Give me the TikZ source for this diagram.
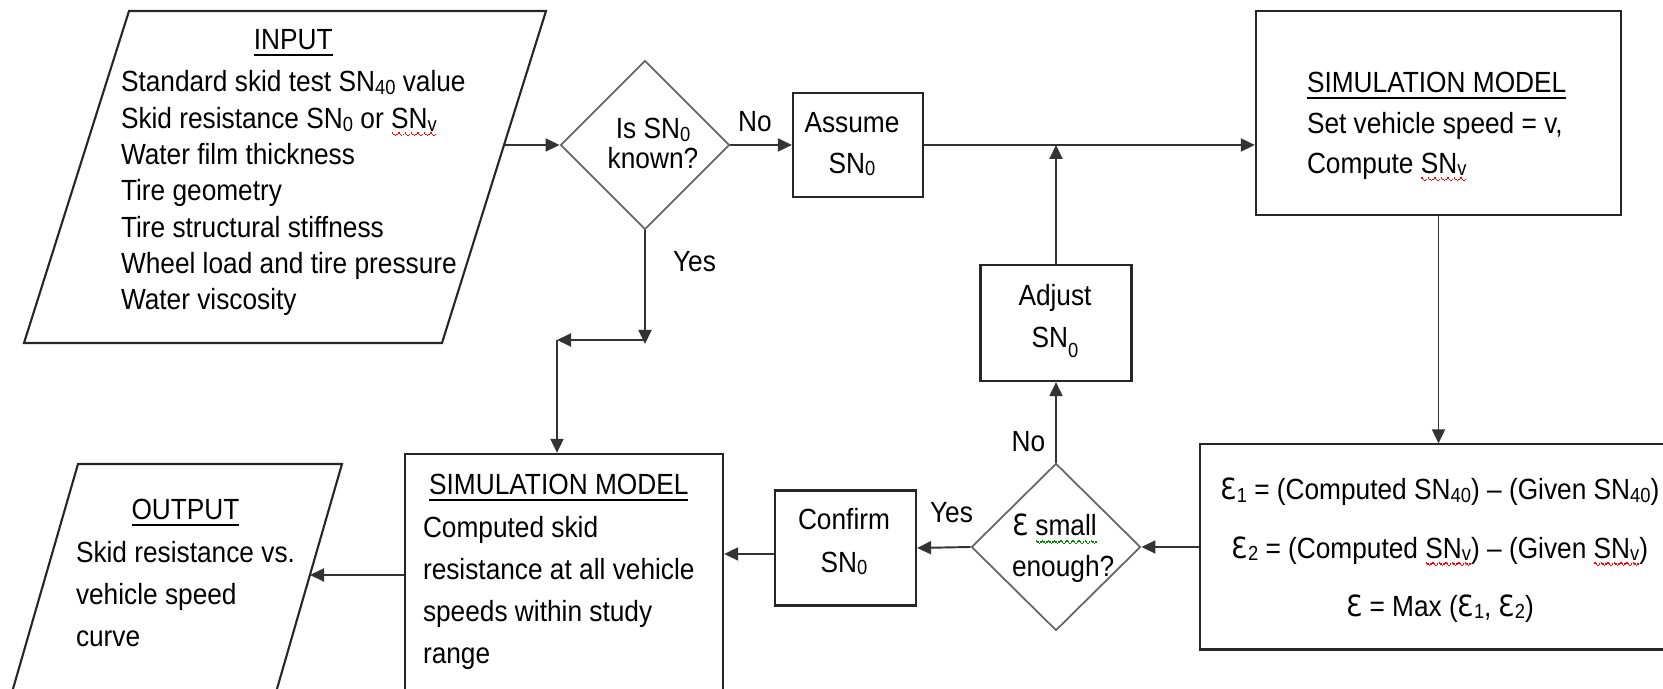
\documentclass[tikz,border=0pt]{standalone}
\usepackage{fontspec}
\setmainfont[FakeStretch=0.9]{Liberation Sans}
\newfontfamily\epsfamily[FakeStretch=0.9]{DejaVu Sans}
\usetikzlibrary{shapes.geometric,arrows.meta,calc}

% subscripts as set in the flow chart
\newcommand\sbs[1]{\raisebox{-0.8pt}{\fontsize{5.8}{5.8}\selectfont #1}}
\newcommand\sbl[1]{\raisebox{-3pt}{\fontsize{5.8}{5.8}\selectfont #1}}
% open epsilon used for the error terms
\newcommand\eps{{\epsfamily Ɛ}}
% wavy spell-check underlines, built from tiny rules
\newsavebox\spbox
\newcommand\wavepiece{\rule[-1.6pt]{0.42pt}{0.42pt}\rule[-1.95pt]{0.42pt}{0.42pt}%
  \rule[-2.3pt]{0.42pt}{0.42pt}\rule[-1.95pt]{0.42pt}{0.42pt}}
\newcommand\spellline[2]{\sbox\spbox{#2}\rlap{\usebox\spbox}%
  \textcolor{#1}{\hbox to \wd\spbox{\xleaders\hbox{\wavepiece}\hfill}}}
\newcommand\spellred[1]{\spellline{red}{#1}}
\newcommand\spellgreen[1]{\spellline{green!55!black}{#1}}

\tikzset{
  frame/.style={draw=black!85, line width=0.6pt, inner sep=0pt},
  decide/.style={diamond, draw=black!60, line width=0.5pt, inner sep=0pt,
    minimum width=1.69cm, minimum height=1.69cm},
  flow/.style={draw=black!80, line width=0.55pt, -{Triangle[length=1.4mm,width=1.3mm]}},
  txt/.style={inner sep=0pt, outer sep=0pt},
  lbl/.style={txt, anchor=base, font=\fontsize{8.3}{9}\selectfont},
}

\begin{document}
\begin{tikzpicture}[x=0.01cm, y=-0.01cm]
\useasboundingbox (0,0) rectangle (1663,689);
\clip (0,0) rectangle (1663,689);

% ---- input / output parallelograms
\draw[frame] (129,11) coordinate (inTL) -- (546,11) coordinate (inTR)
  -- (442,343) coordinate (inBR) -- (24,343) coordinate (inBL) -- cycle;
\draw[frame] (78,464) coordinate (outTL) -- (342,464) coordinate (outTR)
  -- (268,720) coordinate (outBR) -- (4,720) coordinate (outBL) -- cycle;
\coordinate (inR) at (505,145);
\coordinate (outR) at (310,575);

\node[txt, anchor=base west, font=\fontsize{8.3}{10.33}\selectfont] (intext) at (121,50)
 {\begin{tabular}[t]{@{}l@{}}
  \multicolumn{1}{@{}c@{}}{\underline{INPUT}}\\[1.6pt]
  Standard skid test SN\sbs{40} value\\
  Skid resistance SN\sbs{0} or \spellred{SN\sbs{v}}\\
  Water film thickness\\
  Tire geometry\\
  Tire structural stiffness\\
  Wheel load and tire pressure\\
  Water viscosity
 \end{tabular}};

\node[txt, anchor=base west, font=\fontsize{8.3}{11.95}\selectfont] (outtext) at (76,520)
 {\begin{tabular}[t]{@{}l@{}}
  \multicolumn{1}{@{}c@{}}{\underline{OUTPUT}}\\
  Skid resistance vs.\\
  vehicle speed\\
  curve
 \end{tabular}};

% ---- boxes
\node[frame, minimum width=1.30cm, minimum height=1.04cm] (assume) at (858,145) {};
\node[frame, minimum width=3.65cm, minimum height=2.04cm] (sim1) at (1438.5,113) {};
\node[frame, minimum width=4.70cm, minimum height=2.05cm] (err) at (1435,547) {};
\node[frame, minimum width=1.51cm, minimum height=1.16cm] (adj) at (1056,323) {};
\node[frame, minimum width=1.41cm, minimum height=1.15cm] (conf) at (845.5,548) {};
\node[frame, minimum width=3.18cm, minimum height=2.81cm] (sim2) at (564,594.5) {};

% ---- decisions
\node[decide] (d1) at (645,145) {};
\node[decide, minimum height=1.67cm] (d2) at (1056,547) {};

% ---- texts inside boxes and decisions
\node[txt, anchor=base, font=\fontsize{8.3}{11.4}\selectfont] (assumetext) at (852,133)
 {\begin{tabular}[t]{@{}c@{}}Assume\\SN\sbs{0}\end{tabular}};
\node[txt, anchor=base west, font=\fontsize{8.3}{11.4}\selectfont] (sim1text) at (1307,93)
 {\begin{tabular}[t]{@{}l@{}}
  \underline{SIMULATION MODEL}\\
  Set vehicle speed = v,\\
  Compute \spellred{SN\sbs{v}}
 \end{tabular}};
\node[txt, anchor=base, font=\fontsize{8.3}{16.5}\selectfont] (errtext) at (1440,500)
 {\begin{tabular}[t]{@{}c@{}}
  \eps\sbs{1} = (Computed SN\sbs{40}) – (Given SN\sbs{40})\\
  \eps\sbs{2} = (Computed \spellred{SN\sbs{v}}) – (Given \spellred{SN\sbs{v}})\\
  \eps{} = Max (\eps\sbs{1}, \eps\sbs{2})
 \end{tabular}};
\node[txt, anchor=base, font=\fontsize{8.3}{11.7}\selectfont] (adjtext) at (1055,306)
 {\begin{tabular}[t]{@{}c@{}}Adjust\\SN\sbl{0}\end{tabular}};
\node[txt, anchor=base, font=\fontsize{8.3}{11.95}\selectfont] (conftext) at (844,530)
 {\begin{tabular}[t]{@{}c@{}}Confirm\\SN\sbs{0}\end{tabular}};
\node[txt, anchor=base west, font=\fontsize{8.3}{11.95}\selectfont] (sim2text) at (423,495)
 {\begin{tabular}[t]{@{}l@{}}
  \multicolumn{1}{@{}c@{}}{\underline{SIMULATION MODEL}}\\
  Computed skid\\
  resistance at all vehicle\\
  speeds within study\\
  range
 \end{tabular}};
\node[txt, anchor=base, font=\fontsize{8.3}{8}\selectfont] (d1text) at (653,139)
 {\begin{tabular}[t]{@{}c@{}}Is SN\sbs{0}\\known?\end{tabular}};
\node[txt, anchor=base west, font=\fontsize{8.3}{11.4}\selectfont] (d2text) at (1012,536)
 {\begin{tabular}[t]{@{}l@{}}\eps{} \spellgreen{small}\\enough?\end{tabular}};

% ---- branch labels
\node[lbl] (no1) at (755,132) {No};
\node[lbl] (yes1) at (694.5,272) {Yes};
\node[lbl] (no2) at (1028.5,452) {No};
\node[lbl] (yes2) at (951.5,523) {Yes};

% ---- connectors
\draw[flow] (inR) -- (d1.west);
\draw[flow] (d1.east) -- (assume.west);
\draw[flow] (assume.east) -- (assume.east -| sim1.west);
\draw[flow] (sim1.south) -- (sim1.south |- err.north);
\draw[flow] (err.west) -- (d2.east);
\draw[flow] (d2.north) -- (adj.south);
\draw[flow] (adj.north) -- (adj.north |- assume.east);
\draw[flow] (d2.west) -- (conf.east);
\coordinate (cL) at ($(conf.west)+(0,6)$);
\draw[flow] (cL) -- (cL -| sim2.east);
\draw[flow] (outR -| sim2.west) -- (outR);

% "Yes" branch of the first decision
\coordinate (yTip) at (645,344);
\coordinate (yR) at (644,340);
\coordinate (yL) at (557,340);
\draw[flow] (d1.south) -- (yTip);
\draw[flow] (yR) -- (yL);
\draw[flow] (yL) -- (yL |- sim2.north);
\end{tikzpicture}
\end{document}
